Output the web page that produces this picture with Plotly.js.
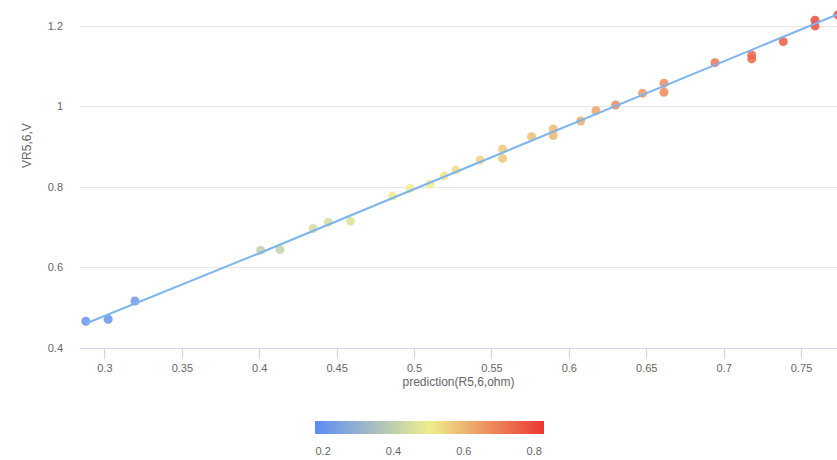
<!DOCTYPE html>
<html>
<head>
<meta charset="utf-8">
<script src="https://cdn.plot.ly/plotly-3.0.1.min.js"></script>
<style>html,body{margin:0;padding:0;background:#fff;}#chart{width:837px;height:460px;}</style>
</head>
<body>
<div id="chart"></div>
<script>
// Scatter points: prediction (x), measured voltage (y), colour value
var predX = [0.2877, 0.3021, 0.3194, 0.4006, 0.4131, 0.4346, 0.4443, 0.4587,
             0.4859, 0.4970, 0.5100, 0.5190, 0.5267, 0.5423, 0.5569, 0.5569,
             0.5756, 0.5896, 0.5896, 0.6073, 0.6172, 0.6299, 0.6473, 0.6611,
             0.6611, 0.6941, 0.7178, 0.7178, 0.7382, 0.7587, 0.7587, 0.7735];
var voltY = [0.4664, 0.4714, 0.5169, 0.6430, 0.6448, 0.6970, 0.7127, 0.7152,
             0.7774, 0.7965, 0.8072, 0.8271, 0.8420, 0.8669, 0.8943, 0.8711,
             0.9249, 0.9440, 0.9280, 0.9640, 0.9896, 1.0037, 1.0328, 1.0577,
             1.0353, 1.1090, 1.1281, 1.1182, 1.1612, 1.2144, 1.2002, 1.2276];
var colorVal = [0.20, 0.20, 0.22, 0.40, 0.41, 0.44, 0.45, 0.46,
                0.49, 0.50, 0.51, 0.52, 0.53, 0.55, 0.57, 0.57,
                0.59, 0.60, 0.60, 0.62, 0.63, 0.68, 0.66, 0.68,
                0.68, 0.72, 0.74, 0.74, 0.76, 0.79, 0.79, 0.80];
// Fitted line
var fitX = [0.2877, 0.4, 0.5, 0.6, 0.7, 0.7740];
var fitY = [0.4610, 0.6360, 0.7950, 0.9540, 1.1130, 1.2300];
// Tick labels
var xTicks = [0.3, 0.35, 0.4, 0.45, 0.5, 0.55, 0.6, 0.65, 0.7, 0.75];
var yTicks = [0.4, 0.6, 0.8, 1, 1.2];
var cTicks = [0.2, 0.4, 0.6, 0.8];

var FONT = '"Liberation Sans", Arial, sans-serif';

var scatter = {
  type: 'scatter', mode: 'markers',
  x: predX, y: voltY,
  marker: {
    size: 9, color: colorVal, opacity: 0.85,
    cmin: 0.177, cmax: 0.828,
    colorscale: [[0, 'rgb(92,140,245)'], [0.5, 'rgb(238,238,140)'], [1, 'rgb(235,55,50)']],
    line: {width: 0},
    showscale: true,
    colorbar: {
      orientation: 'h', x: 0.4617, xanchor: 'center',
      y: -0.2113, yanchor: 'top',
      len: 229, lenmode: 'pixels', thickness: 13,
      xpad: 0, ypad: 0, outlinewidth: 0,
      tickvals: cTicks, ticktext: cTicks.map(String),
      ticks: 'outside', ticklen: 8, tickcolor: 'rgba(0,0,0,0)',
      tickfont: {family: FONT, size: 11, color: '#666'}
    }
  },
  hoverinfo: 'x+y'
};

var line = {
  type: 'scatter', mode: 'lines',
  x: fitX, y: fitY,
  line: {color: '#7cb5ec', width: 2},
  hoverinfo: 'skip'
};

var layout = {
  width: 837, height: 460,
  margin: {l: 80, r: 0, t: 4, b: 112, pad: 0},
  paper_bgcolor: '#fff', plot_bgcolor: '#fff',
  showlegend: false,
  font: {family: FONT, size: 11, color: '#666'},
  xaxis: {
    range: [0.2839, 0.7729],
    tickvals: xTicks, ticktext: xTicks.map(String),
    showgrid: false, zeroline: false,
    showline: true, linecolor: '#ccd6eb', linewidth: 1,
    ticks: 'outside', ticklen: 10, tickcolor: '#ccd6eb', tickwidth: 1,
    tickfont: {family: FONT, size: 11, color: '#666'},
    title: {text: 'prediction(R5,6,ohm)', standoff: 4, font: {family: FONT, size: 12, color: '#666'}},
    automargin: false
  },
  yaxis: {
    range: [0.4, 1.2547],
    tickvals: yTicks, ticktext: yTicks.map(String),
    showgrid: true, gridcolor: '#e6e6e6', gridwidth: 1,
    zeroline: false, showline: false, ticks: '',
    ticklabelstandoff: 16,
    tickfont: {family: FONT, size: 11, color: '#666'},
    automargin: false
  },
  annotations: [{
    text: 'VR5,6,V', textangle: -90,
    xref: 'paper', yref: 'y', x: -0.07, y: 0.902,
    xanchor: 'center', yanchor: 'middle', showarrow: false,
    font: {family: FONT, size: 12, color: '#666'}
  }]
};

Plotly.newPlot('chart', [scatter, line], layout, {displayModeBar: false, staticPlot: true});
</script>
</body>
</html>
